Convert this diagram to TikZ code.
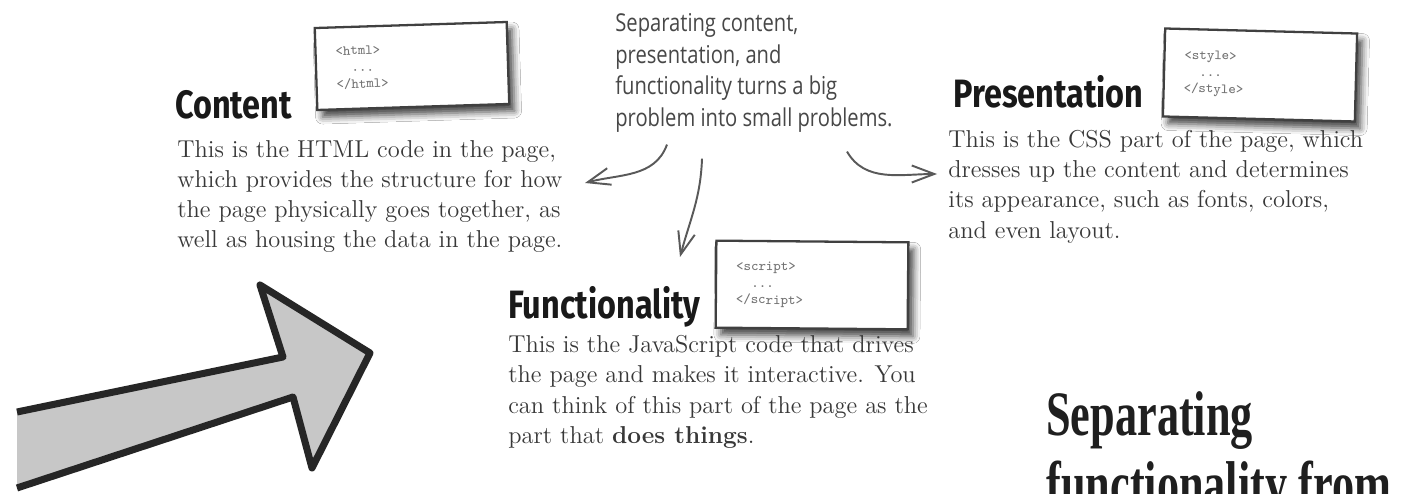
\documentclass[tikz,border=0pt]{standalone}
\usepackage{fontspec}
\usetikzlibrary{arrows.meta,shadows.blur}
\newfontfamily\headfont[FakeStretch=0.82]{Fira Sans}
\newfontfamily\notefont[FakeStretch=0.82]{Open Sans}
\newfontfamily\titlefont[FakeStretch=0.7]{Liberation Serif}

\begin{document}
\begin{tikzpicture}[
  heading/.style  = {anchor=base west, inner sep=0pt, text=black!90,
                     font=\headfont\bfseries\fontsize{22.5}{24}\selectfont},
  desc/.style     = {anchor=north west, inner sep=0pt, align=left, text=black!78,
                     font=\fontsize{13.9}{17.2}\selectfont},
  codebox/.style  = {draw=black!75, line width=1.3pt, fill=white,
                     minimum width=3.84cm, text width=3.04cm, inner xsep=0.4cm,
                     align=left, text=black!55,
                     font=\ttfamily\fontsize{8}{9.5}\selectfont,
                     blur shadow={shadow xshift=3pt, shadow yshift=-4pt,
                                  shadow blur radius=4pt, shadow opacity=75}},
  scribble/.style = {anchor=north west, inner sep=0pt, align=left, text=black!72,
                     font=\notefont\fontsize{14}{18}\selectfont},
  pointer/.style  = {draw=black!65, line width=1.1pt,
                     -{Straight Barb[length=4.5mm,width=3.4mm]}},
  >=stealth
]
  \fill[white] (0,0) rectangle (28.24,-9.88);
  \useasboundingbox (0,0) rectangle (28.24,-9.88);
  \clip (0,0) rectangle (28.24,-9.88);

  % Caixas de codigo
  \node[codebox, minimum height=1.64cm, rotate=1.8] (htmlbox) at (8.24,-1.32)
    {<html>\\\hspace*{1.1em}...\\</html>};
  \node[codebox, minimum height=1.76cm, rotate=-1.5] (stylebox) at (25.2,-1.5)
    {<style>\\\hspace*{1.1em}...\\</style>};
  \node[codebox, minimum height=1.74cm, rotate=-0.5] (scriptbox) at (16.24,-5.7)
    {<script>\\\hspace*{1.1em}...\\</script>};

  % Titulos
  \node[heading] (content) at (3.5,-2.38)   {Content};
  \node[heading] (present) at (19.06,-2.16) {Presentation};
  \node[heading] (funct)   at (10.16,-6.36) {Functionality};

  % Textos
  \node[desc] (cbody) at (3.54,-2.8)
    {This is the HTML code in the page,\\which provides the structure for how\\
     the page physically goes together, as\\well as housing the data in the page.};
  \node[desc] (pbody) at (18.96,-2.6)
    {This is the CSS part of the page, which\\dresses up the content and determines\\
     its appearance, such as fonts, colors,\\and even layout.};
  \node[desc] (fbody) at (10.16,-6.7)
    {This is the JavaScript code that drives\\the page and makes it interactive. You\\
     can think of this part of the page as the\\part that \textbf{does things}.};

  % Nota
  \node[scribble] (note) at (12.3,-0.26)
    {Separating content,\\presentation, and\\functionality turns a big\\
     problem into small problems.};

  % Setas da nota
  \coordinate (tipC) at (11.7,-3.66);
  \coordinate (tipF) at (13.6,-5.14);
  \coordinate (tipP) at (18.74,-3.48);
  \draw[pointer] ([xshift=1.04cm,yshift=-0.24cm]note.south west)
    to[out=-110, in=15] (tipC);
  \draw[pointer] ([xshift=1.74cm,yshift=-0.52cm]note.south west)
    to[out=-92, in=75] (tipF);
  \draw[pointer] ([xshift=4.64cm,yshift=-0.38cm]note.south west)
    to[out=-60, in=180] (tipP);

  % Seta grande
  \fill[black!22] (0.34,-8.24) -- (5.66,-7.14) -- (5.2,-5.7) -- (7.4,-7.06)
    -- (6.24,-9.36) -- (5.86,-7.94) -- (0.34,-9.76) -- cycle;
  \draw[black!85, line width=4pt, line join=round] (0.34,-8.24) -- (5.66,-7.14)
    -- (5.2,-5.7) -- (7.4,-7.06) -- (6.24,-9.36) -- (5.86,-7.94) -- (0.34,-9.76);

  % Titulo grande
  \node[anchor=north west, inner sep=0pt, align=left, text=black!88,
        font=\titlefont\bfseries\fontsize{36}{40}\selectfont] (title)
    at (20.92,-7.82) {Separating\\functionality from};
\end{tikzpicture}
\end{document}
